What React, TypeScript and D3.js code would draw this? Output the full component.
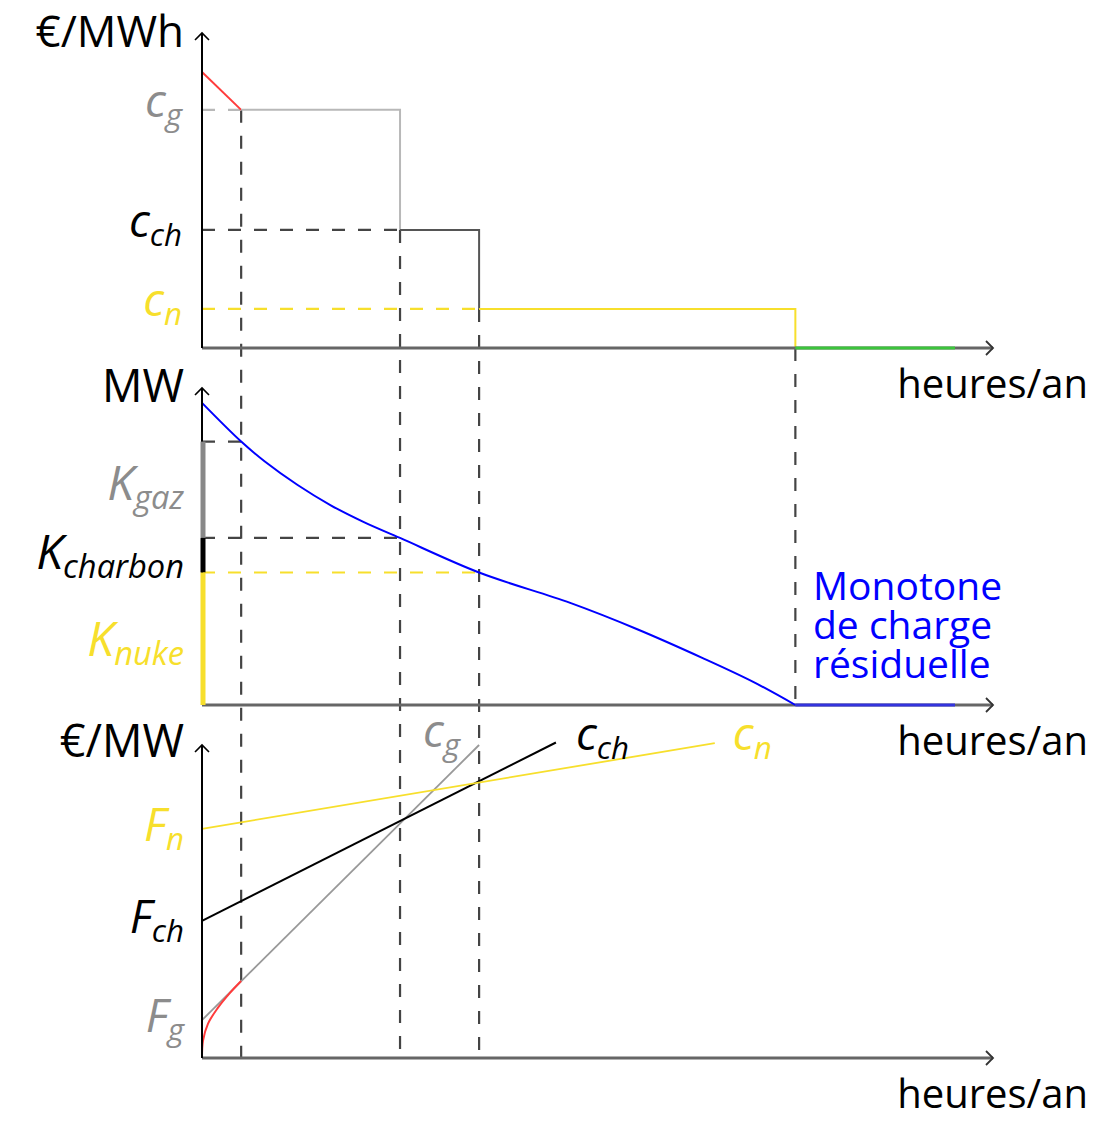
import React from "react";
import * as d3 from "d3";

// heures de fonctionnement (0..100 = une année) où l'on change de technologie
const switchHours = [5.2, 26.3, 36.8, 78.8];
const xMax = 100;

// coûts variables (€/MWh)
const peakCost = 87.6;
const varCostNames = ["g", "ch", "n"];
const varCosts = [75.6, 37.5, 12.4];

// monotone de charge résiduelle (MW)
const loadHours = [0, 5.2, 8.3, 12.7, 17.1, 21.5, 26.3, 36.8, 48.9, 57.8, 66.5, 73.2, 78.8];
const loadMW = [95.3, 83.1, 76.9, 69.4, 63.0, 57.7, 52.7, 41.8, 32.2, 23.9, 14.8, 7.3, 0];

// capacités (haut de chaque tranche, MW)
const capNames = ["gaz", "charbon", "nuke"];
const capTops = [83.1, 52.7, 41.8];

// courbes de coût annuel (€/MW)
const fixedNames = ["g", "ch", "n"];
const fixedCosts = [12.1, 43.8, 73.2];
const screenEndHours = [36.8, 47.0, 68.1];
const screenEndCosts = [100, 100.8, 100.6];
const peakCurveHours = [0, 0.13, 0.8, 2.1, 3.6, 5.2];
const peakCurveCosts = [0, 5.5, 11.0, 16.0, 20.5, 24.6];

const GAZ = "#999999";
const GAZ_TEXT = "#8c8c8c";
const GAZ_LIGHT = "#b8b8b8";
const DARK = "#555555";
const NUKE = "#f7df2c";
const PEAK = "#ff3b3b";
const REN = "#3cc43c";
const LOAD = "#0000ff";
const FONT = "'Open Sans', sans-serif";

const techColors = [GAZ, "#000", NUKE];
const textColors = [GAZ_TEXT, "#000", NUKE];

const x = d3.scaleLinear().domain([0, xMax]).range([202, 955]);
const xArrow = 993;

const panels = [
  { base: 348, top: 33 },
  { base: 705, top: 388 },
  { base: 1058, top: 745 },
];
const ys = panels.map((p) => d3.scaleLinear().domain([0, 100]).range([p.base, p.top]));

function Label({ x, y, main, sub, color, anchor = "end", size = 46 }: any) {
  return (
    <text x={x} y={y} fill={color} textAnchor={anchor} fontFamily={FONT} fontStyle="italic" fontSize={size}>
      {main}
      <tspan fontSize={size * 0.68} dy={9}>{sub}</tspan>
    </text>
  );
}

export default function App() {
  const [y1, y2, y3] = ys;
  const x0 = x(0);
  const dash = "13 13";

  const loadLine = d3
    .line<number>()
    .x((d, i) => x(loadHours[i]))
    .y((d) => y2(d))
    .curve(d3.curveCatmullRom.alpha(0.5))(loadMW);

  const peakLine = d3
    .line<number>()
    .x((d, i) => x(peakCurveHours[i]))
    .y((d) => y3(d))
    .curve(d3.curveCatmullRom.alpha(0.5))(peakCurveCosts);

  const stepEdges = [0, ...switchHours];
  const stepColors = [GAZ_LIGHT, DARK, NUKE];
  const kOffsets = [10, 14, 17];

  return (
    <svg width={1097} height={1121} style={{ display: "block", margin: "-8px" }}>
      <rect width={1097} height={1121} fill="#fff" />

      {/* pointillés verticaux */}
      {switchHours.map((h, i) => {
        const yTop = i < 3 ? y1(varCosts[i]) : y1(0);
        const yBot = i < 3 ? y3(0) : y2(0);
        return <line key={"v" + i} x1={x(h)} x2={x(h)} y1={yTop} y2={yBot} stroke="#444" strokeWidth={2.2} strokeDasharray={dash} />;
      })}

      {/* panneau 1 : coûts variables */}
      {varCosts.map((c, i) => (
        <line key={"h1" + i} x1={x0} x2={x(switchHours[i])} y1={y1(c)} y2={y1(c)}
          stroke={i === 2 ? NUKE : i === 0 ? GAZ_LIGHT : "#444"} strokeWidth={2.2} strokeDasharray={dash} />
      ))}
      <line x1={x0} y1={y1(peakCost)} x2={x(switchHours[0])} y2={y1(varCosts[0])} stroke={PEAK} strokeWidth={2} />
      {varCosts.map((c, i) => (
        <path key={"s" + i} fill="none" stroke={stepColors[i]} strokeWidth={2}
          d={`M${x(stepEdges[i + 1])},${y1(c)} H${x(stepEdges[i + 2])} V${y1(i < 2 ? varCosts[i + 1] : 0)}`} />
      ))}
      <line x1={x0} x2={xArrow} y1={y1(0)} y2={y1(0)} stroke="#666" strokeWidth={3} />
      <line x1={x(switchHours[3])} x2={x(xMax)} y1={y1(0)} y2={y1(0)} stroke={REN} strokeWidth={3} />

      {/* panneau 2 : monotone */}
      {capTops.map((c, i) => (
        <line key={"h2" + i} x1={x0} x2={x(switchHours[i])} y1={y2(c)} y2={y2(c)}
          stroke={i === 2 ? NUKE : "#444"} strokeWidth={2.2} strokeDasharray={dash} />
      ))}
      <line x1={x0} x2={xArrow} y1={y2(0)} y2={y2(0)} stroke="#666" strokeWidth={3} />
      <path d={loadLine ?? ""} fill="none" stroke={LOAD} strokeWidth={2} />
      <line x1={x(switchHours[3])} x2={x(xMax)} y1={y2(0)} y2={y2(0)} stroke="#3333dd" strokeWidth={3} />

      {/* panneau 3 : courbes de coût */}
      {fixedCosts.map((f, i) => (
        <line key={"sc" + i} x1={x0} y1={y3(f)} x2={x(screenEndHours[i])} y2={y3(screenEndCosts[i])}
          stroke={techColors[i]} strokeWidth={i === 1 ? 2 : 1.8} />
      ))}
      <path d={peakLine ?? ""} fill="none" stroke={PEAK} strokeWidth={2} />
      <line x1={x0} x2={xArrow} y1={y3(0)} y2={y3(0)} stroke="#666" strokeWidth={3} />

      {/* axes verticaux et flèches */}
      {panels.map((p, i) => (
        <g key={"ax" + i} fill="none" stroke="#000" strokeWidth={2}>
          <line x1={x0} x2={x0} y1={p.base} y2={p.top} />
          <path d={`M${x0 - 7},${p.top + 7} L${x0},${p.top} L${x0 + 7},${p.top + 7}`} strokeWidth={1.6} />
          <path d={`M${xArrow - 7},${p.base - 7} L${xArrow},${p.base} L${xArrow - 7},${p.base + 7}`} stroke="#333" strokeWidth={1.8} />
        </g>
      ))}

      {/* barres de capacité sur l'axe */}
      {capTops.map((c, i) => (
        <line key={"k" + i} x1={x0 + 1} x2={x0 + 1} y1={y2(c)} y2={y2(i < 2 ? capTops[i + 1] : 0)}
          stroke={i === 0 ? "#888" : techColors[i]} strokeWidth={5} />
      ))}

      {/* titres d'axes */}
      <g fontFamily={FONT} fontSize={44} fill="#000">
        <text x={184} y={47} textAnchor="end">€/MWh</text>
        <text x={184} y={402} textAnchor="end" fontSize={45}>MW</text>
        <text x={184} y={757} textAnchor="end" fontSize={45}>€/MW</text>
        {panels.map((p, i) => (
          <text key={"ha" + i} x={1088} y={p.base + 50} textAnchor="end" fontSize={40}>heures/an</text>
        ))}
      </g>

      {/* étiquettes */}
      {varCosts.map((c, i) => (
        <Label key={"lc" + i} x={182} y={y1(c) + 7} main="c" sub={varCostNames[i]} color={textColors[i]} />
      ))}
      {capTops.map((c, i) => {
        const bottom = i < 2 ? capTops[i + 1] : 0;
        return (
          <Label key={"lk" + i} x={184} y={(y2(c) + y2(bottom)) / 2 + kOffsets[i]} main="K" sub={capNames[i]} color={textColors[i]} size={48} />
        );
      })}
      {fixedCosts.map((f, i) => (
        <Label key={"lf" + i} x={184} y={y3(f) + 12} main="F" sub={fixedNames[i]} color={textColors[i]} />
      ))}
      <Label x={x(screenEndHours[0]) - 19} y={747} main="c" sub={varCostNames[0]} color={GAZ_TEXT} />
      <Label x={x(screenEndHours[1]) + 20} y={750} main="c" sub={varCostNames[1]} color="#000" anchor="start" />
      <Label x={x(screenEndHours[2]) + 18} y={750} main="c" sub={varCostNames[2]} color={NUKE} anchor="start" />

      <g fontFamily={FONT} fontSize={39} fill={LOAD}>
        <text x={813} y={600}>Monotone</text>
        <text x={813} y={639}>de charge</text>
        <text x={813} y={678}>résiduelle</text>
      </g>
    </svg>
  );
}
